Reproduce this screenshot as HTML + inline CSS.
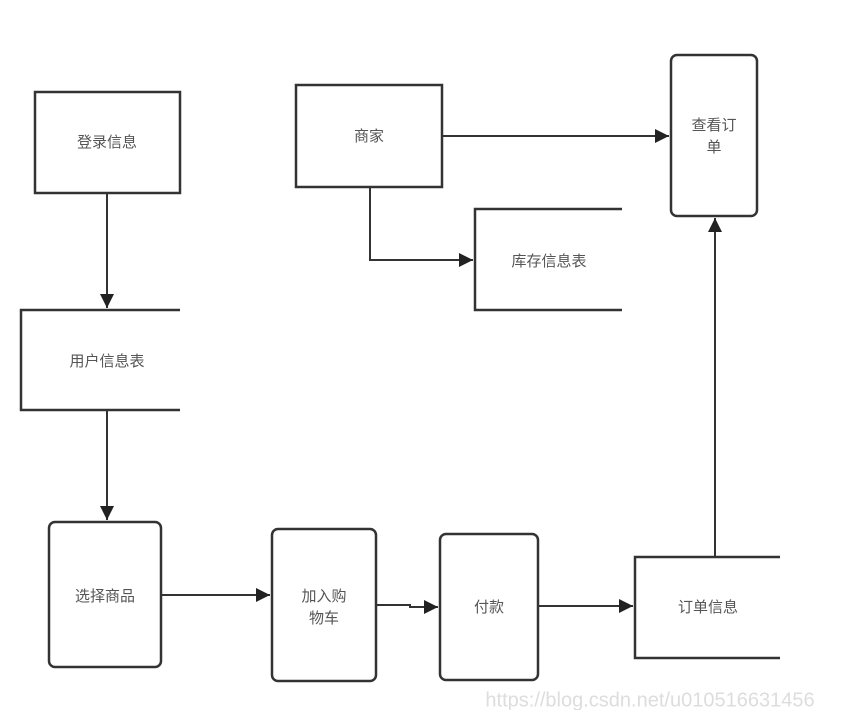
<!DOCTYPE html>
<html><head><meta charset="utf-8"><style>
html,body{margin:0;padding:0;background:#fff;}
svg text{font-family:"Liberation Sans","Noto Sans CJK SC",sans-serif;font-size:15px;fill:#555;text-anchor:middle;dominant-baseline:middle;}
</style></head><body>
<svg width="850" height="710" xmlns="http://www.w3.org/2000/svg">
<defs><marker id="a" markerWidth="10" markerHeight="10" refX="9" refY="5" orient="auto" markerUnits="userSpaceOnUse" viewBox="0 0 10 10"><path d="M0,0 L10,5 L0,10 z" fill="#222"/></marker>
<marker id="b" viewBox="0 0 10 10" refX="10" refY="5" markerWidth="18" markerHeight="14" orient="auto" markerUnits="userSpaceOnUse"><path d="M0,0 L10,5 L0,10 z" fill="#222"/></marker></defs>
<g stroke="#333" stroke-width="2.5" fill="none">
<rect x="35" y="92" width="145" height="101"/>
<path d="M180,310 H21 V410 H180"/>
<rect x="49" y="522" width="112" height="145" rx="6"/>
<rect x="272" y="529" width="104" height="152" rx="6"/>
<rect x="440" y="534" width="98" height="146" rx="6"/>
<path d="M780,557 H635 V658 H780"/>
<rect x="296" y="85" width="146" height="102"/>
<path d="M622,209 H475 V310 H622"/>
<rect x="671" y="55" width="86" height="161" rx="6"/>
</g>
<g stroke="#333" stroke-width="2" fill="none" marker-end="url(#b)">
<path d="M107,193 V308"/>
<path d="M107,410 V520"/>
<path d="M161,595 H270"/>
<path d="M376,605 H410 V607 H438"/>
<path d="M538,606 H633"/>
<path d="M715,557 V218"/>
<path d="M442,136 H669"/>
<path d="M370,187 V260 H473"/>
</g>
<text x="107" y="143">登录信息</text>
<text x="107" y="362">用户信息表</text>
<text x="105" y="597">选择商品</text>
<text x="324" y="597">加入购</text>
<text x="324" y="619">物车</text>
<text x="489" y="608">付款</text>
<text x="708" y="608">订单信息</text>
<text x="369" y="137">商家</text>
<text x="549" y="262">库存信息表</text>
<text x="714" y="126">查看订</text>
<text x="714" y="148">单</text>
<text x="650" y="701" style="fill:#ddd;font-size:20px">https://blog.csdn.net/u010516631456</text>
</svg>
</body></html>
